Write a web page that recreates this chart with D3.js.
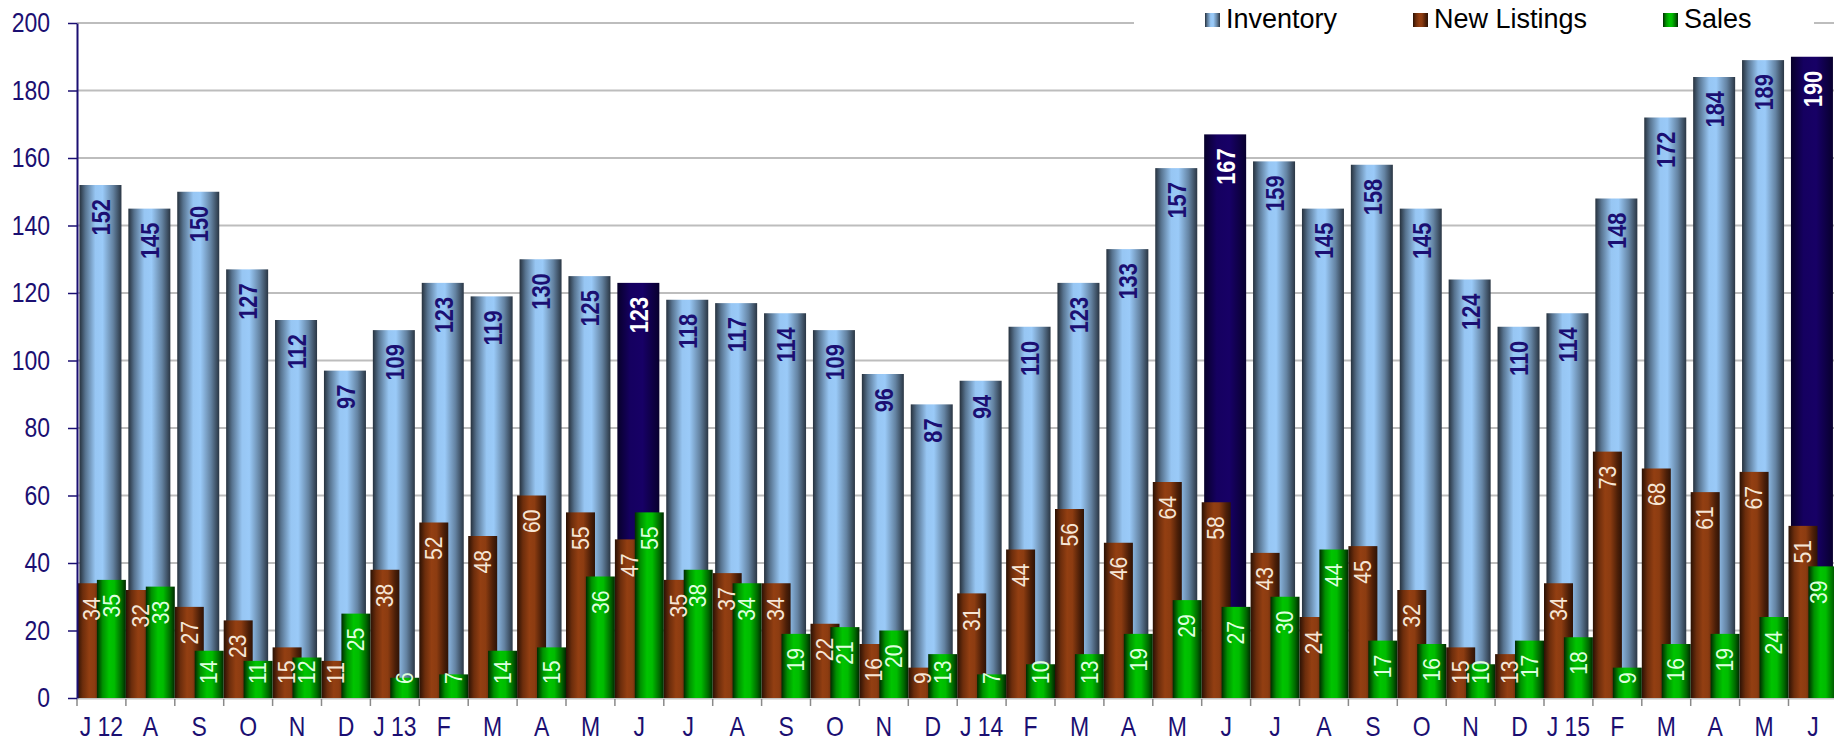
<!DOCTYPE html>
<html>
<head>
<meta charset="utf-8">
<script src="https://cdn.jsdelivr.net/npm/d3@7"></script>
<style>
  body { margin: 0; background: #fff; }
  svg { display: block; }
  text { font-family: "Liberation Sans", Arial, sans-serif; }
</style>
</head>
<body>
<svg id="chart" width="1834" height="741"></svg>
<script>
// Jul 2012 .. Jun 2015
const months = ['J 12', 'A', 'S', 'O', 'N', 'D', 'J 13', 'F', 'M', 'A', 'M', 'J',
    'J', 'A', 'S', 'O', 'N', 'D', 'J 14', 'F', 'M', 'A', 'M', 'J',
    'J', 'A', 'S', 'O', 'N', 'D', 'J 15', 'F', 'M', 'A', 'M', 'J'];
const inventory = [152, 145, 150, 127, 112, 97, 109, 123, 119, 130, 125, 123,
    118, 117, 114, 109, 96, 87, 94, 110, 123, 133, 157, 167,
    159, 145, 158, 145, 124, 110, 114, 148, 172, 184, 189, 190];
const newListings = [34, 32, 27, 23, 15, 11, 38, 52, 48, 60, 55, 47,
    35, 37, 34, 22, 16, 9, 31, 44, 56, 46, 64, 58,
    43, 24, 45, 32, 15, 13, 34, 73, 68, 61, 67, 51];
const sales = [35, 33, 14, 11, 12, 25, 6, 7, 14, 15, 36, 55,
    38, 34, 19, 21, 20, 13, 7, 10, 13, 19, 29, 27,
    30, 44, 17, 16, 10, 17, 18, 9, 16, 19, 24, 39];
const juneIdx = [11, 23, 35];
const yTicks = [0, 20, 40, 60, 80, 100, 120, 140, 160, 180, 200];
const seriesNames = ['Inventory', 'New Listings', 'Sales'];

const navy = '#1b0f72';
const svg = d3.select('#chart');

// the plot runs a little past the right edge, like the cropped original
const x = d3.scaleBand().domain(d3.range(months.length)).range([77, 1837.4]);
const y = d3.scaleLinear().domain([0, 200]).range([698, 23]);
const bw = x.bandwidth();
const xEnd = x.range()[1];
const subW = 29;
const invW = 42;

// squeeze text horizontally (no narrow face installed)
function squeeze(sel, k) {
    sel.each(function () {
        let len = this.getComputedTextLength();
        d3.select(this).attr('textLength', len * k).attr('lengthAdjust', 'spacingAndGlyphs');
    });
}

// bar gradients, horizontal shading like the old excel cylinders
const defs = svg.append('defs');
function grad(id, stops) {
    let g = defs.append('linearGradient').attr('id', id)
        .attr('x1', 0).attr('x2', 1).attr('y1', 0).attr('y2', 0);
    stops.forEach(function (s) {
        g.append('stop').attr('offset', s[0]).attr('stop-color', s[1]);
    });
}
grad('gInv', [[0, '#26313d'], [0.14, '#57738f'], [0.38, '#97c6f3'], [0.55, '#9acaf8'], [0.8, '#6483a2'], [1, '#2a3644']]);
grad('gJun', [[0, '#07002a'], [0.3, '#150060'], [0.6, '#170066'], [1, '#08002e']]);
grad('gNew', [[0, '#2a1104'], [0.2, '#6c2d0c'], [0.42, '#933f12'], [0.6, '#8c3c11'], [0.85, '#4c1f08'], [1, '#2e1306']]);
grad('gSal', [[0, '#002a00'], [0.2, '#009000'], [0.42, '#00c400'], [0.6, '#00bc00'], [0.85, '#006800'], [1, '#002800']]);

// gridlines
svg.append('g').selectAll('line').data(yTicks.filter(function (t) { return t > 0; }))
    .enter().append('line')
    .attr('x1', 77).attr('x2', xEnd)
    .attr('y1', function (d) { return y(d); })
    .attr('y2', function (d) { return y(d); })
    .attr('stroke', '#bdbdbd').attr('stroke-width', 2);

// x axis base + boundary ticks
svg.append('line').attr('x1', 77).attr('x2', xEnd).attr('y1', 698.5).attr('y2', 698.5)
    .attr('stroke', '#c4c4c4').attr('stroke-width', 2);
svg.append('g').selectAll('line').data(d3.range(months.length + 1))
    .enter().append('line')
    .attr('x1', function (i) { return 77 + i * bw; })
    .attr('x2', function (i) { return 77 + i * bw; })
    .attr('y1', 699).attr('y2', 706)
    .attr('stroke', '#8a8a8a').attr('stroke-width', 1.5);

const bars = svg.append('g');
bars.selectAll('rect.inv').data(inventory).enter().append('rect')
    .attr('class', 'inv')
    .attr('x', function (d, i) { return x(i) + (bw - invW) / 2 - 1; })
    .attr('width', invW)
    .attr('y', function (d) { return y(d); })
    .attr('height', function (d) { return y(0) - y(d); })
    .attr('fill', function (d, i) { return juneIdx.includes(i) ? 'url(#gJun)' : 'url(#gInv)'; });
bars.selectAll('rect.nl').data(newListings).enter().append('rect')
    .attr('class', 'nl')
    .attr('x', function (d, i) { return x(i); })
    .attr('width', subW)
    .attr('y', function (d) { return y(d); })
    .attr('height', function (d) { return y(0) - y(d); })
    .attr('fill', 'url(#gNew)');
bars.selectAll('rect.sl').data(sales).enter().append('rect')
    .attr('class', 'sl')
    .attr('x', function (d, i) { return x(i) + bw - subW; })
    .attr('width', subW)
    .attr('y', function (d) { return y(d); })
    .attr('height', function (d) { return y(0) - y(d); })
    .attr('fill', 'url(#gSal)');

// rotated value labels; small bars push label up so it stays above the axis
function labels(data, cxf, size, weight, colorf, k) {
    let g = svg.append('g');
    g.selectAll('text').data(data).enter().append('text')
        .attr('font-size', size)
        .attr('font-weight', weight)
        .attr('fill', function (d, i) { return colorf(i); })
        .attr('text-anchor', 'end')
        .attr('dy', '0.36em')
        .text(function (d) { return d; })
        .each(function (d, i) {
            let t = d3.select(this);
            let len = this.getComputedTextLength() * k;
            if (k !== 1) t.attr('textLength', len).attr('lengthAdjust', 'spacingAndGlyphs');
            let top = Math.min(y(d) + 14, 684 - len);
            let cx = Math.min(cxf(i), 1819); // last label kept inside the cropped edge
            t.attr('transform', 'translate(' + cx + ',' + top + ') rotate(-90)');
        });
}
labels(inventory, function (i) { return x(i) + bw / 2 - 0.5; }, 26, 'bold',
    function (i) { return juneIdx.includes(i) ? '#ffffff' : navy; }, 0.84);
labels(newListings, function (i) { return x(i) + subW / 2; }, 23, 'normal',
    function () { return '#f6e6d6'; }, 0.92);
labels(sales, function (i) { return x(i) + bw - subW / 2; }, 23, 'normal',
    function () { return '#ddffdd'; }, 0.92);

// y axis
const yAxis = svg.append('g').attr('transform', 'translate(77,0)')
    .call(d3.axisLeft(y).tickValues(yTicks).tickSize(9).tickSizeOuter(0).tickPadding(18));
yAxis.select('.domain').attr('stroke', navy).attr('stroke-width', 2);
yAxis.selectAll('.tick line').attr('stroke', navy).attr('stroke-width', 1.5);
yAxis.selectAll('.tick text').attr('font-family', null).attr('font-size', 28).attr('fill', navy)
    .call(squeeze, 0.82);

// x axis labels
const xAxis = svg.append('g').attr('transform', 'translate(0,698)')
    .call(d3.axisBottom(x).tickFormat(function (i) { return months[i]; }).tickSize(0).tickPadding(18));
xAxis.select('.domain').remove();
xAxis.selectAll('.tick text').attr('font-family', null).attr('font-size', 28).attr('fill', navy)
    .call(squeeze, 0.82);
svg.selectAll('g').attr('font-family', null);

// legend box sits on top of the 200 gridline
const legend = svg.append('g');
legend.append('rect').attr('x', 1134).attr('y', 4).attr('width', 680).attr('height', 36).attr('fill', '#fff');
const legX = [1205, 1413, 1663];
const legFill = ['url(#gInv)', 'url(#gNew)', 'url(#gSal)'];
seriesNames.forEach(function (name, i) {
    legend.append('rect').attr('x', legX[i]).attr('y', 13).attr('width', 15).attr('height', 14)
        .attr('fill', legFill[i]);
    legend.append('text').attr('x', legX[i] + 21).attr('y', 27.5)
        .attr('font-size', 27).attr('fill', '#000').text(name);
});
</script>
</body>
</html>
